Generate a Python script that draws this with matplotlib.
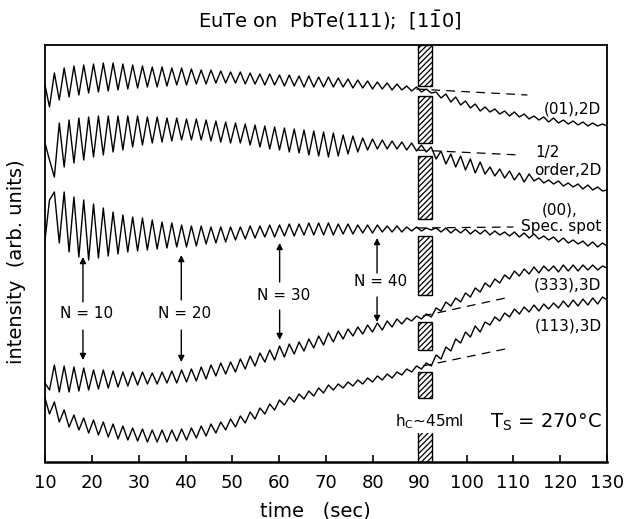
import matplotlib
matplotlib.use("Agg")
import matplotlib.pyplot as plt
from matplotlib.patches import Rectangle

# sampling times (sec): start, then successive extrema of the RHEED oscillations
t_ext = [10.0, 10.96, 12.00, 13.05, 14.09, 15.14, 16.18, 17.23, 18.27, 19.32,
         20.36, 21.41, 22.45, 23.50, 24.54, 25.59, 26.63, 27.68, 28.72, 29.77,
         30.81, 31.86, 32.90, 33.95, 34.99, 36.04, 37.08, 38.13, 39.17, 40.22,
         41.26, 42.31, 43.35, 44.40, 45.44, 46.49, 47.53, 48.58, 49.62, 50.67,
         51.71, 52.76, 53.80, 54.85, 55.89, 56.94, 57.98, 59.03, 60.07, 61.12,
         62.16, 63.21, 64.25, 65.30, 66.34, 67.39, 68.43, 69.48, 70.52, 71.57,
         72.61, 73.66, 74.70, 75.75, 76.79, 77.84, 78.88, 79.93, 80.97, 82.02,
         83.06, 84.11, 85.15, 86.20, 87.24, 88.29, 89.33, 90.38, 91.42, 92.47,
         93.51, 94.56, 95.60, 96.65, 97.69, 98.74, 99.78, 100.83, 101.87, 102.92,
         103.96, 105.01, 106.05, 107.10, 108.14, 109.19, 110.23, 111.28, 112.32, 113.37,
         114.41, 115.46, 116.50, 117.55, 118.59, 119.64, 120.68, 121.73, 122.77, 123.82,
         124.86, 125.91, 126.95, 128.00, 129.04, 130.0]

# intensities (arb. units, traces offset vertically as in the figure)
i_01 = [377, 355, 389, 362, 394, 365, 396, 367, 397, 369,
        398, 370, 399, 371, 399, 372, 398, 373, 397, 374,
        396, 375, 395, 375, 395, 376, 394, 377, 394, 377,
        393, 378, 392, 378, 392, 379, 391, 379, 390, 379,
        390, 378, 389, 378, 388, 377, 388, 377, 387, 376,
        387, 376, 386, 375, 386, 375, 385, 375, 385, 375,
        384, 375, 383, 374, 382, 374, 381, 373, 380, 373,
        379, 372, 378, 372, 376, 371, 375, 370, 373, 369,
        370, 364, 368, 360, 365, 357, 361, 354, 358, 351,
        355, 350, 353, 348, 351, 346, 350, 345, 348, 343,
        346, 342, 345, 340, 344, 339, 342, 338, 341, 337,
        340, 336, 339, 336, 338, 336]

i_half = [319, 302, 285, 339, 295, 342, 299, 344, 302, 345,
          305, 346, 307, 346, 310, 346, 312, 346, 315, 346,
          317, 345, 319, 345, 320, 344, 321, 344, 322, 343,
          322, 343, 322, 342, 321, 341, 320, 340, 319, 339,
          319, 338, 317, 337, 315, 336, 313, 335, 312, 334,
          310, 333, 309, 332, 307, 331, 306, 330, 305, 329,
          306, 327, 308, 326, 310, 324, 312, 323, 313, 322,
          313, 321, 313, 320, 312, 319, 311, 317, 310, 315,
          303, 311, 298, 308, 295, 306, 292, 303, 289, 300,
          288, 295, 286, 293, 284, 291, 282, 289, 280, 288,
          281, 284, 279, 282, 278, 281, 276, 279, 275, 278,
          273, 277, 272, 275, 271, 272]

i_00 = [222, 262, 270, 219, 270, 210, 265, 205, 262, 202,
        258, 204, 254, 206, 250, 208, 247, 210, 245, 211,
        244, 212, 242, 213, 240, 214, 239, 215, 237, 215,
        236, 216, 236, 218, 235, 219, 235, 220, 235, 222,
        235, 223, 236, 224, 236, 225, 237, 225, 237, 226,
        238, 226, 238, 227, 239, 227, 239, 227, 239, 227,
        238, 228, 238, 228, 237, 229, 237, 229, 237, 230,
        236, 230, 236, 230, 235, 231, 235, 231, 234, 232,
        234, 230, 234, 229, 233, 229, 233, 228, 232, 228,
        232, 227, 231, 227, 230, 226, 230, 225, 229, 224,
        228, 223, 226, 222, 225, 220, 224, 219, 222, 218,
        221, 216, 220, 215, 219, 216]

i_333 = [79, 72, 97, 70, 96, 70, 95, 71, 94, 72,
         92, 73, 92, 74, 91, 75, 90, 76, 90, 77,
         90, 78, 89, 78, 90, 79, 91, 79, 92, 80,
         93, 81, 95, 83, 97, 86, 99, 88, 100, 90,
         103, 93, 106, 96, 109, 100, 112, 102, 116, 105,
         118, 108, 120, 111, 123, 114, 126, 117, 129, 120,
         131, 123, 133, 126, 135, 128, 137, 130, 139, 132,
         141, 135, 143, 138, 144, 141, 146, 143, 148, 145,
         154, 151, 160, 156, 164, 160, 169, 165, 174, 170,
         179, 175, 183, 179, 187, 183, 191, 186, 193, 188,
         195, 189, 196, 191, 196, 190, 197, 191, 197, 191,
         197, 192, 197, 192, 196, 194]

i_113 = [64, 48, 60, 40, 52, 35, 47, 32, 44, 29,
         42, 27, 40, 25, 38, 23, 36, 22, 34, 21,
         33, 20, 32, 20, 32, 20, 32, 21, 33, 22,
         34, 24, 36, 26, 38, 29, 40, 32, 43, 35,
         46, 39, 50, 43, 54, 48, 58, 52, 62, 57,
         65, 60, 68, 63, 71, 66, 74, 69, 77, 72,
         78, 74, 80, 76, 82, 78, 84, 80, 86, 82,
         88, 84, 90, 87, 93, 90, 96, 93, 99, 96,
         107, 103, 115, 111, 123, 119, 130, 125, 136, 130,
         140, 137, 145, 141, 149, 145, 153, 148, 155, 150,
         157, 151, 158, 153, 159, 154, 161, 155, 162, 156,
         163, 157, 164, 158, 165, 162]

# dashed extrapolations of the trends past h_c
dash_t = {"01": [89.3, 113.0], "half": [89.4, 111.4], "00": [89.4, 110.0],
          "333": [90.7, 109.3], "113": [90.7, 109.3]}
dash_i = {"01": [373, 367], "half": [312, 307], "00": [234, 235],
          "333": [146, 165], "113": [96, 114]}

# critical thickness marker (sec)
hc_t0, hc_t1 = 89.6, 92.6
hc_pieces = [(376, 417), (319, 366), (243, 306), (167, 226), (112, 140), (64, 90), (0, 34)]

# monolayer count markers
n_labels = ["N = 10", "N = 20", "N = 30", "N = 40"]
n_t = [18.1, 39.1, 60.1, 80.9]
n_up = [(160, 205), (162, 207), (180, 219), (189, 224)]
n_down = [(132, 102), (132, 100), (152, 122), (165, 140)]
n_text_y = [149, 149, 167, 180]

plt.rcParams["font.family"] = ["DejaVu Sans"]
plt.rcParams["hatch.linewidth"] = 0.9

fig = plt.figure(figsize=(6.29, 5.19), dpi=100)
ax = fig.add_axes([45 / 629, 57 / 519, 562 / 629, 417 / 519])

for y in [i_01, i_half, i_00, i_333, i_113]:
    ax.plot(t_ext, y, color="black", lw=1.0, zorder=3)

for k in dash_t:
    ax.plot(dash_t[k], dash_i[k], color="black", lw=0.9, ls=(0, (7, 5)), zorder=3)

for lo, hi in hc_pieces:
    ax.add_patch(Rectangle((hc_t0, lo), hc_t1 - hc_t0, hi - lo, facecolor="white",
                           edgecolor="black", hatch="//////", lw=1.0, zorder=2))

for lab, t, up, dn, ty in zip(n_labels, n_t, n_up, n_down, n_text_y):
    ax.annotate("", xy=(t, up[1]), xytext=(t, up[0]),
                arrowprops=dict(arrowstyle="-|>", color="black", lw=1.0,
                                mutation_scale=9, shrinkA=0, shrinkB=0))
    ax.annotate("", xy=(t, dn[1]), xytext=(t, dn[0]),
                arrowprops=dict(arrowstyle="-|>", color="black", lw=1.0,
                                mutation_scale=9, shrinkA=0, shrinkB=0))
    ax.text(t + 0.8, ty, lab, ha="center", va="center", fontsize=11)

fs = 11
ax.text(128.8, 353, "(01),2D", ha="right", va="center", fontsize=fs)
ax.text(117.4, 310, "1/2", ha="center", va="center", fontsize=fs)
ax.text(128.8, 292, "order,2D", ha="right", va="center", fontsize=fs)
ax.text(120.0, 252, "(00),", ha="center", va="center", fontsize=fs)
ax.text(128.8, 235, "Spec. spot", ha="right", va="center", fontsize=fs)
ax.text(128.8, 177, "(333),3D", ha="right", va="center", fontsize=fs)
ax.text(128.8, 136, "(113),3D", ha="right", va="center", fontsize=fs)
ax.text(92.0, 40, r"h$_\mathregular{C}$~45ml", ha="center", va="center", fontsize=fs,
        bbox=dict(facecolor="white", edgecolor="none", pad=1))
ax.text(128.8, 40, r"T$_\mathregular{S}$ = 270°C", ha="right", va="center", fontsize=14)

ax.set_xlim(10, 130)
ax.set_ylim(0, 417)
ax.set_xticks(range(10, 131, 10))
ax.set_yticks([])
ax.tick_params(axis="x", direction="in", length=5, width=1.2, pad=9, labelsize=13)
for s in ax.spines.values():
    s.set_linewidth(1.3)
ax.spines["bottom"].set_linewidth(1.8)

fig.text(330 / 629, 1 - 20 / 519, r"EuTe on  PbTe(111);  [1$\bar{\mathregular{1}}$0]",
         ha="center", va="center", fontsize=14)
fig.text(315 / 629, 1 - 511 / 519, "time   (sec)", ha="center", va="center", fontsize=14)
fig.text(17 / 629, 1 - 262 / 519, "intensity  (arb. units)", ha="center", va="center",
         rotation=90, fontsize=14)

fig.savefig("out.png", dpi=100)
